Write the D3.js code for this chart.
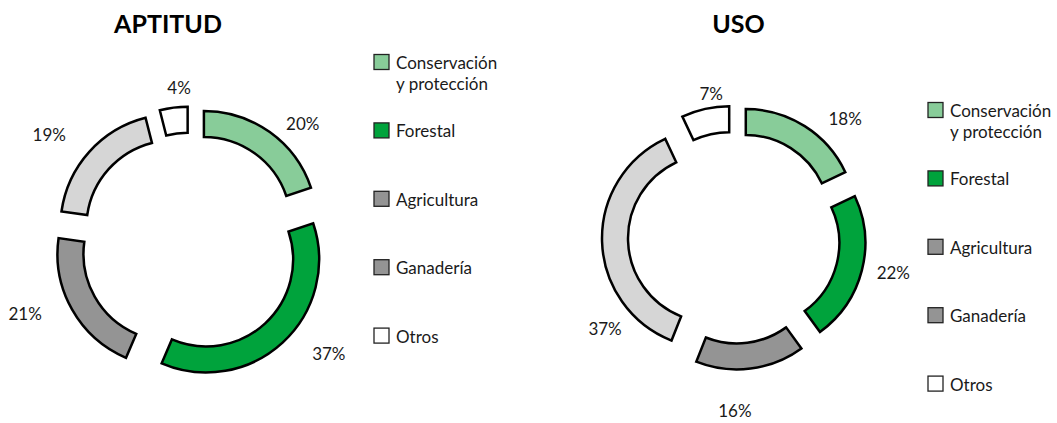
<!DOCTYPE html>
<html>
<head>
<meta charset="utf-8">
<script src="https://cdn.jsdelivr.net/npm/d3@7"></script>
<style>
  body { margin: 0; background: #fff; }
  svg { display: block; font-family: Lato, "Open Sans", sans-serif; }
</style>
</head>
<body>
<div id="chart"></div>
<script>
// data
const categories = ["Conservación\ny protección", "Forestal", "Agricultura", "Ganadería", "Otros"];
const aptitudValues = [20, 37, 21, 19, 4];
const usoValues = [18, 22, 16, 37, 7];
const titles = ["APTITUD", "USO"];
const sliceColors = ["#88cc99", "#00a33c", "#949494", "#d6d6d6", "#ffffff"];
const legendColors = ["#88cc99", "#00a33c", "#949494", "#949494", "#ffffff"];

const W = 1057, H = 423;

const svg = d3.select("#chart").append("svg")
  .attr("width", W).attr("height", H);

// layout for each donut (label angles in degrees, clockwise from top)
const panels = [
  { title: titles[0], values: aptitudValues, cx: 190.5, cy: 242.6, outerR: 113, innerR: 87, explode: 23,
    titleX: 168, legendX: 374, legendY: 62,
    labelAngle: [43.2, 128.6, 246.7, 307.5, 355.8], labelR: [164, 177, 180, 178, 156] },
  { title: titles[1], values: usoValues, cx: 734, cy: 237.6, outerR: 110, innerR: 84, explode: 22,
    titleX: 738.5, legendX: 928, legendY: 110,
    labelAngle: [43, 102.2, 179.7, 234.7, 351], labelR: [163, 163, 173, 158, 146] }
];

const pie = d3.pie().sort(null).value(d => d);

panels.forEach(p => {
  const arc = d3.arc().innerRadius(p.innerR).outerRadius(p.outerR);

  // title
  svg.append("text")
    .attr("x", p.titleX).attr("y", 33)
    .attr("text-anchor", "middle")
    .style("font-size", "25px")
    .style("font-weight", "bold")
    .style("fill", "#000")
    .text(p.title);

  const g = svg.append("g").attr("transform", `translate(${p.cx},${p.cy})`);
  const arcs = pie(p.values);

  // exploded slices
  g.selectAll("path")
    .data(arcs)
    .enter()
    .append("path")
    .attr("d", arc)
    .attr("transform", d => {
      const m = (d.startAngle + d.endAngle) / 2;
      return `translate(${p.explode * Math.sin(m)},${-p.explode * Math.cos(m)})`;
    })
    .attr("fill", (d, i) => sliceColors[i])
    .attr("stroke", "#000")
    .attr("stroke-width", 2.5)
    .attr("stroke-linejoin", "miter");

  // percent labels
  g.selectAll("text.pct")
    .data(arcs)
    .enter()
    .append("text")
    .attr("class", "pct")
    .attr("x", (d, i) => p.labelR[i] * Math.sin(p.labelAngle[i] * Math.PI / 180))
    .attr("y", (d, i) => -p.labelR[i] * Math.cos(p.labelAngle[i] * Math.PI / 180))
    .attr("text-anchor", "middle")
    .attr("dominant-baseline", "central")
    .style("font-size", "17px")
    .style("fill", "#1a1a1a")
    .text(d => d.data + "%");

  // legend
  const ly = d3.scaleLinear().domain([0, categories.length - 1])
    .range([p.legendY, p.legendY + 68.4 * (categories.length - 1)]);

  const legend = svg.append("g").attr("transform", `translate(${p.legendX},0)`);
  categories.forEach((c, i) => {
    legend.append("rect")
      .attr("x", 0).attr("y", ly(i) - 7.5)
      .attr("width", 15).attr("height", 15)
      .attr("fill", legendColors[i])
      .attr("stroke", "#222")
      .attr("stroke-width", 1.3);

    const t = legend.append("text")
      .attr("x", 22).attr("y", ly(i))
      .attr("dominant-baseline", "central")
      .style("font-size", "17px")
      .style("fill", "#1a1a1a");
    c.split("\n").forEach((line, j) => {
      t.append("tspan")
        .attr("x", 22)
        .attr("dy", j === 0 ? 0 : 21)
        .text(line);
    });
  });
});
</script>
</body>
</html>
